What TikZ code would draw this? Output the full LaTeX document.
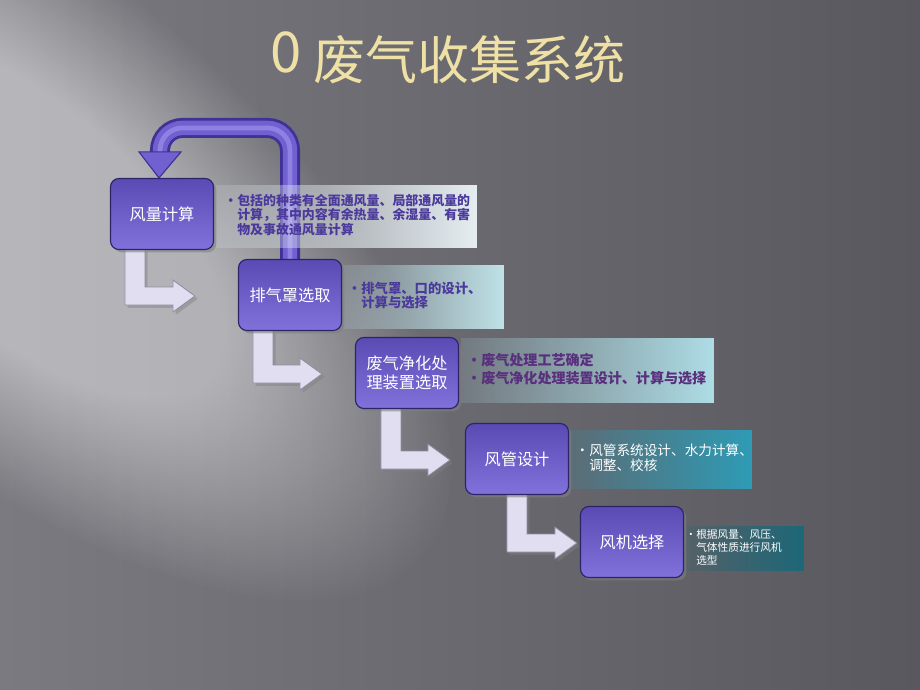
\documentclass[tikz,border=0pt]{standalone}
\usepackage{fontspec}
\setmainfont{Noto Sans CJK SC}
\usetikzlibrary{calc,shadows,fadings}

\definecolor{bgleft}{HTML}{7A7A80}
\definecolor{bgright}{HTML}{58585E}
\definecolor{beamgray}{HTML}{727274}
\definecolor{titlegold}{HTML}{EFE0A6}
\definecolor{boxtop}{HTML}{5A4AB4}
\definecolor{boxbot}{HTML}{8171DB}
\definecolor{boxline}{HTML}{2D2468}
\definecolor{tubedark}{HTML}{3F3196}
\definecolor{tubemid}{HTML}{7060D0}
\definecolor{tubelight}{HTML}{9D90EC}
\definecolor{lfill}{HTML}{E2DEF2}
\definecolor{ledge}{HTML}{8E8CA2}
\definecolor{panelA}{HTML}{E6EEF2}
\definecolor{panelB}{HTML}{BFE3E8}
\definecolor{panelC}{HTML}{AEDDE6}
\definecolor{panelD}{HTML}{2F9CB6}
\definecolor{panelE}{HTML}{1D6878}
\definecolor{notepurple}{HTML}{4B3A9C}
\definecolor{notemauve}{HTML}{5A2F7E}

\pgfdeclarelayer{back}
\pgfdeclarelayer{mid}
\pgfsetlayers{back,mid,main}

\pgfdeclareradialshading{glowshade}{\pgfpoint{0bp}{0bp}}{color(0bp)=(beamgray);
  color(80bp)=(beamgray); color(170bp)=(black); color(200bp)=(black)}
\tikzfading[name=panelfade, left color=transparent!85, right color=transparent!0]

\tikzset{
  stepbox/.style={rounded corners=6pt, minimum width=2.575cm, minimum height=1.775cm,
    top color=boxtop, bottom color=boxbot, draw=boxline, line width=0.8pt,
    text=white, align=center, font=\fontsize{11.5}{13.5}\selectfont,
    drop shadow={opacity=0.6, shadow xshift=2pt, shadow yshift=-2pt}},
  note/.style={inner sep=0pt, align=left, anchor=north west},
  lshape/.style={fill=lfill, draw=ledge, line width=0.6pt,
    drop shadow={opacity=0.45, shadow xshift=2pt, shadow yshift=-2pt}},
  titletext/.style={font=\fontsize{37}{40}\selectfont, text=titlegold}
}

% L-shaped arrow from one step to the next: from, to, bar offset, gap
\newcommand\larrow[4]{%
  \coordinate (la) at ($(#1.south west)+(#3,-1)$);
  \coordinate (lt) at ($(#2.west)+(-#4,1)$);
  \filldraw[lshape] (la) -- ++(20,0) |- ($(lt)+(-22,-9)$) -- ($(lt)+(-22,-16)$)
    -- (lt) -- ($(lt)+(-22,16)$) -- ($(lt)+(-22,9)$) -| (la) -- cycle;
}

\begin{document}
\begin{tikzpicture}[x=0.025cm, y=-0.025cm]
  \useasboundingbox (0,0) rectangle (920,690);

  % steps
  \node[stepbox] (b1) at (162,214) {风量计算};
  \node[stepbox] (b2) at (290,295) {排气罩选取};
  \node[stepbox] (b3) at (407,373) {废气净化处\\理装置选取};
  \node[stepbox] (b4) at (517,459) {风管设计};
  \node[stepbox] (b5) at (632,542) {风机选择};

  % notes
  \node[note, text=notepurple, font=\bfseries\fontsize{9.2}{10.3}\selectfont] (n1) at (237,194)
    {\llap{·}包括的种类有全面通风量、局部通风量的\\计算，其中内容有余热量、余湿量、有害\\物及事故通风量计算};
  \node[note, text=notepurple, font=\bfseries\fontsize{9.5}{10}\selectfont] (n2) at (361,282)
    {\llap{·}排气罩、口的设计、\\计算与选择};
  \node[note, text=notemauve, font=\bfseries\fontsize{10}{12.8}\selectfont] (n3) at (481,353)
    {\llap{·}废气处理工艺确定\\\llap{·}废气净化处理装置设计、计算与选择};
  \node[note, text=white, font=\fontsize{9.7}{10.7}\selectfont] (n4) at (589,444)
    {\llap{·}风管系统设计、水力计算、\\调整、校核};
  \node[note, text=white, font=\fontsize{7.6}{9.2}\selectfont] (n5) at (696,529)
    {\llap{·}根据风量、风压、\\气体性质进行风机\\选型};

  \begin{pgfonlayer}{back}
    \shade[left color=bgleft, right color=bgright] (0,0) rectangle (920,690);
    \begin{scope}[blend mode=screen]
      \clip (0,0) rectangle (920,690);
      % light from the upper left
      \node[inner sep=0pt, rotate=-40, xscale=2.2] (glow) at (20,215) {\pgfuseshading{glowshade}};
    \end{scope}
    \node[titletext] (title) at (448,58) {{\fontsize{40}{40}\selectfont\raisebox{5pt}{0}} 废气收集系统};
  \end{pgfonlayer}

  \begin{pgfonlayer}{mid}
    % loop back to the first step
    \draw[tubedark, line width=0.5cm, rounded corners=16pt,
      postaction={draw=tubemid, line width=0.36cm},
      postaction={draw=tubelight, line width=0.12cm, opacity=0.7}]
      (b2.north) -- ++(0,-131) -| ($(b1.north)+(-2,-24)$);
    \filldraw[fill=tubemid, draw=tubedark, line width=0.8pt]
      ($(b1.north)+(-23,-26)$) -- ($(b1.north)+(19,-26)$) -- ($(b1.north)+(-3,0)$) -- cycle;

    \larrow{b1}{b2}{15}{43}
    \larrow{b2}{b3}{15}{33}
    \larrow{b3}{b4}{26}{15}
    \larrow{b4}{b5}{42}{3}

    \foreach \xa/\ya/\xb/\yb/\col in {214/185/477/248/panelA, 343/265/504/329/panelB,
        461/338/714/403/panelC, 569/430/752/489/panelD, 684/526/804/571/panelE}
      \fill[\col, path fading=panelfade] (\xa,\ya) rectangle (\xb,\yb);
  \end{pgfonlayer}
\end{tikzpicture}
\end{document}
